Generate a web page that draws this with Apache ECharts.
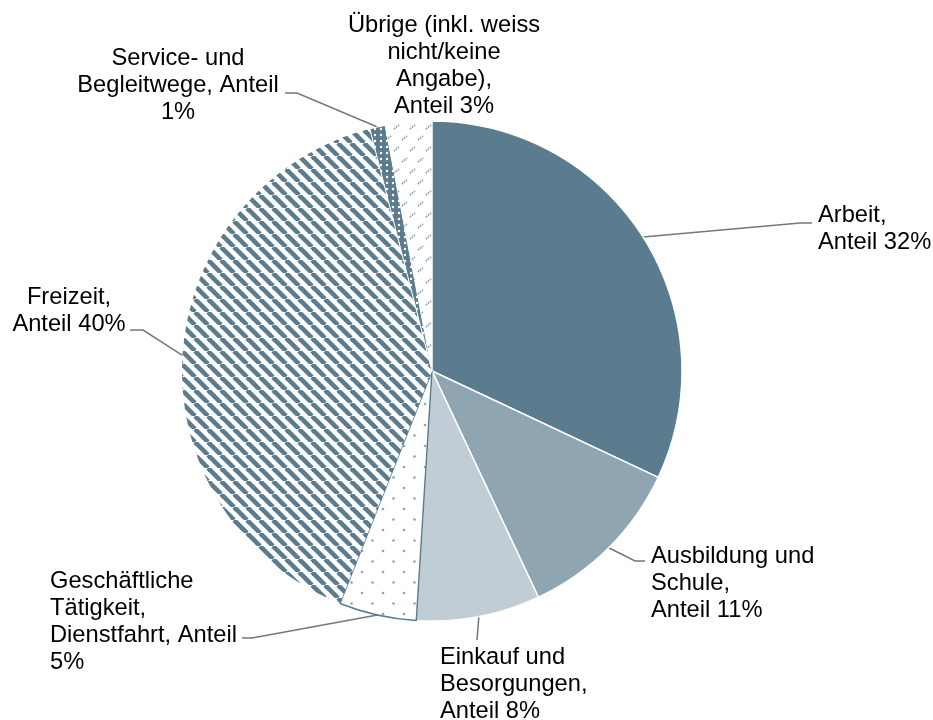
<!DOCTYPE html>
<html>
<head>
<meta charset="utf-8">
<script src="https://cdn.jsdelivr.net/npm/echarts@6/dist/echarts.min.js"></script>
<style>
  html, body { margin: 0; padding: 0; background: #fff; }
  #chart { width: 933px; height: 720px; }
</style>
</head>
<body>
<div id="chart"></div>
<script>
const categories = [
    'Arbeit',
    'Ausbildung und Schule',
    'Einkauf und Besorgungen',
    'Geschäftliche Tätigkeit, Dienstfahrt',
    'Freizeit',
    'Service- und Begleitwege',
    'Übrige (inkl. weiss nicht/keine Angabe)'
];
const shares = [32, 11, 8, 5, 40, 1, 3];

// label text, with the line breaks of the original; {v} is the share
const labelTemplates = [
    'Arbeit,\nAnteil {v}%',
    'Ausbildung und\nSchule,\nAnteil {v}%',
    'Einkauf und\nBesorgungen,\nAnteil {v}%',
    'Geschäftliche\nTätigkeit,\nDienstfahrt, Anteil\n{v}%',
    'Freizeit,\nAnteil {v}%',
    'Service- und\nBegleitwege, Anteil\n{v}%',
    'Übrige (inkl. weiss\nnicht/keine\nAngabe),\nAnteil {v}%'
];

const BLUE = '#5b7c8f';
const MID = '#8fa5b2';
const LIGHT = '#c0cdd5';

function tile(w, h, draw) {
    const c = document.createElement('canvas');
    c.width = w;
    c.height = h;
    draw(c.getContext('2d'));
    return c;
}

// Freizeit: diagonal stripes
const stripes = tile(13, 13, ctx => {
    ctx.fillStyle = '#fff';
    ctx.fillRect(0, 0, 13, 13);
    ctx.strokeStyle = BLUE;
    ctx.lineWidth = 4.6;
    for (let k = -1; k <= 1; k++) {
        ctx.beginPath();
        ctx.moveTo(k * 13, 0);
        ctx.lineTo(k * 13 + 13, 13);
        ctx.stroke();
    }
});

// Geschäftliche: sparse dots
const sparseDots = tile(21, 21, ctx => {
    ctx.fillStyle = '#fff';
    ctx.fillRect(0, 0, 21, 21);
    ctx.fillStyle = MID;
    [[5, 5], [15.5, 15.5]].forEach(p => {
        ctx.beginPath();
        ctx.arc(p[0], p[1], 1.3, 0, Math.PI * 2);
        ctx.fill();
    });
});

// Service: white dots on dark
const darkDots = tile(6, 6, ctx => {
    ctx.fillStyle = BLUE;
    ctx.fillRect(0, 0, 6, 6);
    ctx.fillStyle = '#fff';
    ctx.beginPath();
    ctx.arc(3, 3, 1.2, 0, Math.PI * 2);
    ctx.fill();
});

// Übrige: small slanted dashes
const dashes = tile(16, 22, ctx => {
    ctx.fillStyle = '#fff';
    ctx.fillRect(0, 0, 16, 22);
    ctx.strokeStyle = '#8aa1b0';
    ctx.lineWidth = 1.8;
    ctx.setLineDash([1.5, 1]);
    [[2, 8], [10, 19]].forEach(p => {
        ctx.beginPath();
        ctx.moveTo(p[0], p[1]);
        ctx.lineTo(p[0] + 5, p[1] - 4);
        ctx.stroke();
    });
});

const sliceStyles = [
    { color: BLUE, borderColor: '#fff', borderWidth: 1.5 },
    { color: MID, borderColor: '#fff', borderWidth: 1.5 },
    { color: LIGHT, borderColor: '#fff', borderWidth: 1.5 },
    { color: { image: sparseDots, repeat: 'repeat' }, borderColor: BLUE, borderWidth: 1.5 },
    { color: { image: stripes, repeat: 'repeat' }, borderWidth: 0 },
    { color: { image: darkDots, repeat: 'repeat' }, borderColor: '#fff', borderWidth: 1 },
    { color: { image: dashes, repeat: 'repeat' }, borderWidth: 0 }
];

const CX = 432, CY = 371, R = 250;

// where each label sits and where its leader line bends
const labelBoxes = [
    { x: 818, y: 201.5, align: 'left', bend: [800, 223], end: [812, 223] },
    { x: 651, y: 543, align: 'left', bend: [635, 561], end: [645, 561] },
    { x: 440, y: 643.5, align: 'left', bend: [477, 640], end: [477, 640] },
    { x: 50, y: 567.5, align: 'left', bend: [252, 638], end: [242, 638] },
    { x: 69, y: 283.5, align: 'center', bend: [143, 330], end: [130, 330] },
    { x: 178, y: 44.5, align: 'center', bend: [297, 93], end: [285, 93] },
    { x: 444, y: 11.5, align: 'center', bend: null, end: null }
];

const total = shares.reduce((a, b) => a + b, 0);
function edgePoint(i) {
    let before = 0;
    for (let k = 0; k < i; k++) before += shares[k];
    const a = (before + shares[i] / 2) / total * Math.PI * 2;
    return [CX + R * Math.sin(a), CY - R * Math.cos(a)];
}

const chart = echarts.init(document.getElementById('chart'));

chart.setOption({
    animation: false,
    series: [{
        type: 'pie',
        center: [CX, CY],
        radius: R,
        startAngle: 90,
        clockwise: true,
        avoidLabelOverlap: false,
        silent: true,
        data: categories.map((name, i) => ({
            name: name,
            value: shares[i],
            itemStyle: sliceStyles[i],
            labelLine: { show: labelBoxes[i].bend !== null }
        })),
        label: {
            show: true,
            position: 'outside',
            formatter: p => labelTemplates[p.dataIndex].replace('{v}', p.value),
            fontFamily: 'Liberation Sans, Arial, sans-serif',
            fontSize: 23.7,
            lineHeight: 27,
            color: '#000'
        },
        labelLine: {
            show: true,
            lineStyle: { color: '#777', width: 1.5 }
        },
        labelLayout: params => {
            const b = labelBoxes[params.dataIndex];
            const out = { x: b.x, y: b.y, align: b.align, verticalAlign: 'top' };
            if (b.bend) out.labelLinePoints = [edgePoint(params.dataIndex), b.bend, b.end];
            return out;
        }
    }]
});
</script>
</body>
</html>
